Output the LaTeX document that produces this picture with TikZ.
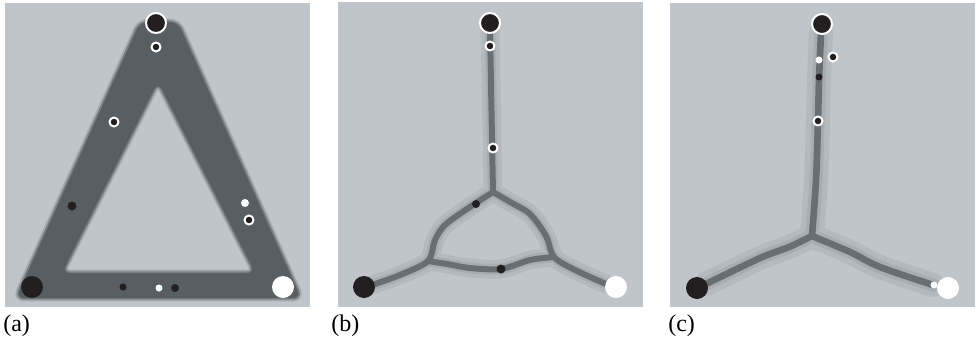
\documentclass[tikz,border=0pt]{standalone}
\usepackage{fontspec}
\setmainfont{Liberation Serif}

\definecolor{panelbg}{RGB}{192,196,203}
\definecolor{banddark}{RGB}{88,95,98}
\definecolor{bandedge}{RGB}{122,129,132}
\definecolor{bandblur}{RGB}{165,170,175}
\definecolor{tubemid}{RGB}{104,111,114}
\definecolor{hazelt}{RGB}{180,185,191}
\definecolor{hazemid}{RGB}{168,173,178}
\definecolor{ink}{RGB}{35,31,32}

\tikzset{
  panel/.style={fill=panelbg},
  srcbig/.style={fill=ink, draw=white, line width=1.5pt},
  sinkbig/.style={fill=ink},
  drainbig/.style={fill=white},
  ringdot/.style={fill=ink, draw=white, line width=1.5pt},
  blackdot/.style={fill=ink},
  whitedot/.style={fill=white},
  caption/.style={anchor=base west, inner sep=0pt, font=\fontsize{18}{20}\selectfont}
}

% the thick triangle of panel (a)
\def\triband{(140,22) -- (178,22) -- (301,298) -- (16,298) -- cycle
  (158,82) -- (62,273) -- (255,273) -- cycle}

\begin{document}
\begin{tikzpicture}[x=0.75pt, y=-0.75pt, line join=round, line cap=round]
  \useasboundingbox (0,0) rectangle (976,340);

  % (a)
  \fill[panel] (5,3) rectangle (310,307);
  \draw[bandblur, line width=5pt, rounded corners=6] \triband;
  \draw[bandedge, line width=2.5pt, rounded corners=6] \triband;
  \fill[banddark, even odd rule, rounded corners=6] \triband;
  \filldraw[srcbig] (156,23) circle (10);
  \filldraw[ringdot] (156,47) circle (4.5);
  \filldraw[ringdot] (114,122) circle (4.5);
  \filldraw[ringdot] (249,220) circle (4.5);
  \fill[blackdot] (72,206) circle (4.5);
  \fill[blackdot] (123,287) circle (3.5);
  \fill[blackdot] (175,288) circle (4);
  \fill[whitedot] (245,203) circle (4);
  \fill[whitedot] (159,288) circle (3.5);
  \fill[sinkbig] (32,287) circle (11);
  \fill[drainbig] (283,287) circle (11);
  \node[caption] (capa) at (3,331) {(a)};

  % (b)
  \fill[panel] (338,2) rectangle (643,307);
  \coordinate (bTop) at (490,30);
  \coordinate (bJ) at (493,192);
  \coordinate (bL) at (428,261);
  \coordinate (bR) at (554,257);
  \coordinate (bA) at (372,285);
  \coordinate (bB) at (606,284);
  \foreach \w/\c in {14pt/hazelt, 8pt/hazemid, 4.5pt/tubemid} {
    \draw[draw=\c, line width=\w] (bTop) -- (bJ);
    \draw[draw=\c, line width=\w] plot[smooth] coordinates
      {(bJ) (476,203) (446,224) (435,240) (bL) (400,275) (bA)};
    \draw[draw=\c, line width=\w] plot[smooth] coordinates
      {(bJ) (510,202) (530,214) (546,236) (bR) (575,270) (bB)};
    \draw[draw=\c, line width=\w] plot[smooth] coordinates
      {(bL) (447,264) (470,268) (501,269) (530,260) (bR)};
  }
  \filldraw[srcbig] (490,23) circle (10);
  \filldraw[ringdot] (490,46) circle (4.5);
  \filldraw[ringdot] (493,148) circle (4.5);
  \fill[blackdot] (476,204) circle (4);
  \fill[blackdot] (501,269) circle (4.5);
  \fill[sinkbig] (364,287) circle (11);
  \fill[drainbig] (616,287) circle (11);
  \node[caption] (capb) at (331,331) {(b)};

  % (c)
  \fill[panel] (670,3) rectangle (975,307);
  \coordinate (cTop) at (821,33);
  \coordinate (cJ) at (812,236);
  \coordinate (cA) at (706,284);
  \coordinate (cB) at (933,285);
  \foreach \w/\c in {18pt/hazelt, 10pt/hazemid, 5pt/tubemid} {
    \draw[draw=\c, line width=\w] plot[smooth] coordinates
      {(cTop) (819,80) (818,121) (816,180) (cJ)};
    \draw[draw=\c, line width=\w] plot[smooth] coordinates
      {(cJ) (789,247) (760,258) (cA)};
    \draw[draw=\c, line width=\w] plot[smooth] coordinates
      {(cJ) (850,252) (880,267) (cB)};
  }
  \filldraw[srcbig] (822,24) circle (10);
  \fill[whitedot] (819,60) circle (3.5);
  \filldraw[ringdot] (833,57) circle (4.5);
  \fill[blackdot] (819,77) circle (3.5);
  \filldraw[ringdot] (818,121) circle (4.5);
  \fill[sinkbig] (697,288) circle (11);
  \fill[drainbig] (948,288) circle (11);
  \fill[whitedot] (934,285) circle (3.5);
  \node[caption] (capc) at (668,331) {(c)};
\end{tikzpicture}
\end{document}
